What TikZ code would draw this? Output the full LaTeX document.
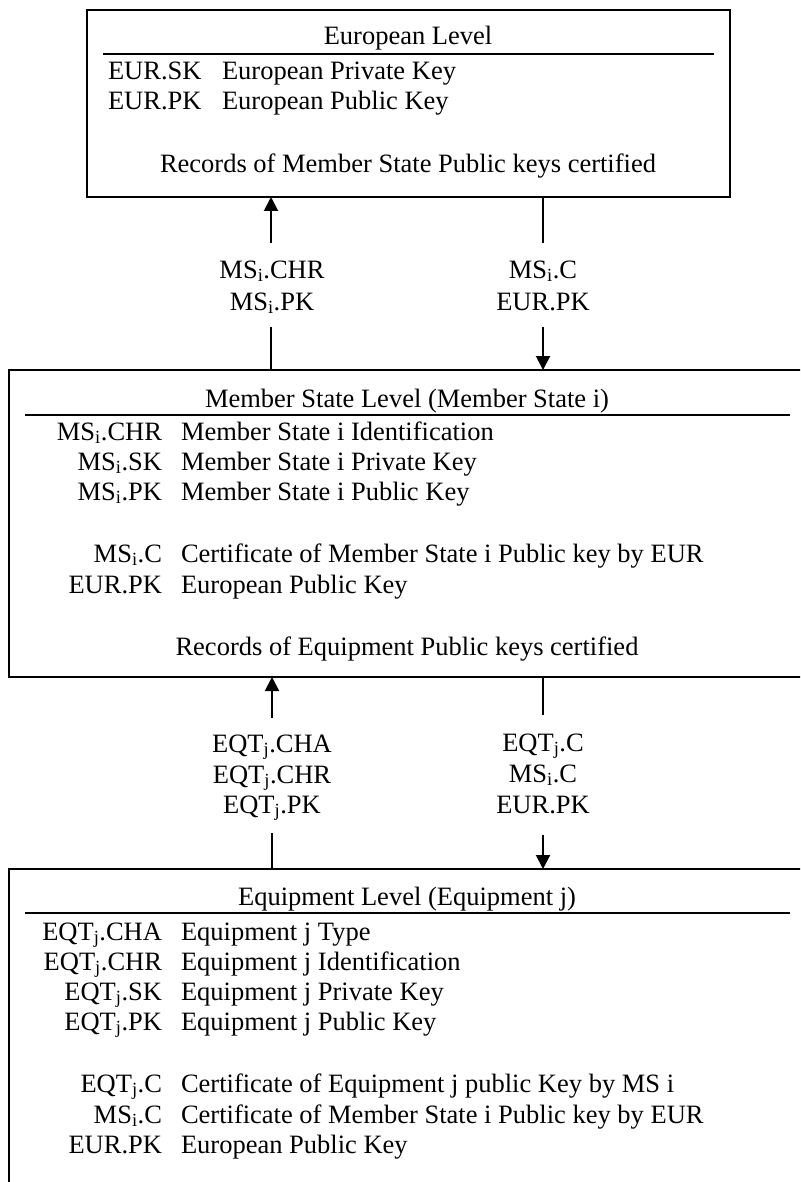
\documentclass[tikz,border=0pt]{standalone}
\usepackage{fontspec}
\setmainfont{Liberation Serif}
\usetikzlibrary{arrows.meta}
\newcommand\MSi{MS\textsubscript{i}}
\newcommand\EQTj{EQT\textsubscript{j}}
\begin{document}
\begin{tikzpicture}[x=1pt,y=-1pt,
  box/.style={draw,line width=1.8pt,rectangle,anchor=north west,inner sep=0pt,outer sep=0pt},
  rulerline/.style={line width=1.6pt},
  txt/.style={inner sep=0pt,outer sep=0pt,font=\fontsize{26.5}{31}\selectfont},
  keyr/.style={txt,anchor=base east},
  keyl/.style={txt,anchor=base west},
  desc/.style={txt,anchor=base west},
  ctr/.style={txt,anchor=base},
  conn/.style={line width=2pt},
  arr/.style={conn,-{Triangle[length=14pt,width=14pt]}}
]
\useasboundingbox (0,0) rectangle (800,1182);
\clip (0,0) rectangle (800,1182);

% ---------- European level ----------
\node[box,minimum width=643pt,minimum height=187pt] (eur) at (87,10) {};
\draw[rulerline] (103,54) -- (714,54);
\node[ctr] (eurh) at (408,45) {European Level};
\node[keyl] (ek1) at (108,80) {EUR.SK};
\node[desc] (ed1) at (222,80) {European Private Key};
\node[keyl] (ek2) at (108,110) {EUR.PK};
\node[desc] (ed2) at (222,110) {European Public Key};
\node[ctr] (erec) at (408,173) {Records of Member State Public keys certified};

% ---------- Member State level ----------
\node[box,minimum width=796pt,minimum height=307pt] (mid) at (9,370) {};
\draw[rulerline] (25,415) -- (790,415);
\node[ctr] (midh) at (407,407) {Member State Level (Member State i)};
\node[keyr] (mk1) at (162,440) {\MSi.CHR};
\node[desc] (md1) at (181,440) {Member State i Identification};
\node[keyr] (mk2) at (162,470) {\MSi.SK};
\node[desc] (md2) at (181,470) {Member State i Private Key};
\node[keyr] (mk3) at (162,500) {\MSi.PK};
\node[desc] (md3) at (181,500) {Member State i Public Key};
\node[keyr] (mk4) at (162,562) {\MSi.C};
\node[desc] (md4) at (181,562) {Certificate of Member State i Public key by EUR};
\node[keyr] (mk5) at (162,593) {EUR.PK};
\node[desc] (md5) at (181,593) {European Public Key};
\node[ctr] (mrec) at (407,655) {Records of Equipment Public keys certified};

% ---------- Equipment level ----------
\node[box,minimum width=796pt,minimum height=400pt] (eqt) at (9,869) {};
\draw[rulerline] (25,913) -- (790,913);
\node[ctr] (eqh) at (407,905) {Equipment Level (Equipment j)};
\node[keyr] (qk1) at (162,940) {\EQTj.CHA};
\node[desc] (qd1) at (181,940) {Equipment j Type};
\node[keyr] (qk2) at (162,970) {\EQTj.CHR};
\node[desc] (qd2) at (181,970) {Equipment j Identification};
\node[keyr] (qk3) at (162,1000) {\EQTj.SK};
\node[desc] (qd3) at (181,1000) {Equipment j Private Key};
\node[keyr] (qk4) at (162,1030) {\EQTj.PK};
\node[desc] (qd4) at (181,1030) {Equipment j Public Key};
\node[keyr] (qk5) at (162,1092) {\EQTj.C};
\node[desc] (qd5) at (181,1092) {Certificate of Equipment j public Key by MS i};
\node[keyr] (qk6) at (162,1123) {\MSi.C};
\node[desc] (qd6) at (181,1123) {Certificate of Member State i Public key by EUR};
\node[keyr] (qk7) at (162,1153) {EUR.PK};
\node[desc] (qd7) at (181,1153) {European Public Key};

% ---------- connectors between European and Member State ----------
\node[ctr] (l1a) at (272,278) {\MSi.CHR};
\node[ctr] (l1b) at (272,310) {\MSi.PK};
\node[ctr] (r1a) at (543,278) {\MSi.C};
\node[ctr] (r1b) at (543,310) {EUR.PK};
\coordinate (a1t) at (271,243);
\coordinate (a1b) at (271,327);
\coordinate (b1t) at (543,243);
\coordinate (b1b) at (543,327);
\draw[arr] (a1t) -- (a1t |- eur.south);
\draw[conn] (mid.north -| a1b) -- (a1b);
\draw[conn] (eur.south -| b1t) -- (b1t);
\draw[arr] (b1b) -- (b1b |- mid.north);

% ---------- connectors between Member State and Equipment ----------
\node[ctr] (l2a) at (272,752) {\EQTj.CHA};
\node[ctr] (l2b) at (272,783) {\EQTj.CHR};
\node[ctr] (l2c) at (272,813) {\EQTj.PK};
\node[ctr] (r2a) at (543,751) {\EQTj.C};
\node[ctr] (r2b) at (543,782) {\MSi.C};
\node[ctr] (r2c) at (543,813) {EUR.PK};
\coordinate (a2t) at (272,718);
\coordinate (a2b) at (272,833);
\coordinate (b2t) at (543,715);
\coordinate (b2b) at (543,835);
\draw[arr] (a2t) -- (a2t |- mid.south);
\draw[conn] (eqt.north -| a2b) -- (a2b);
\draw[conn] (mid.south -| b2t) -- (b2t);
\draw[arr] (b2b) -- (b2b |- eqt.north);
\end{tikzpicture}
\end{document}
